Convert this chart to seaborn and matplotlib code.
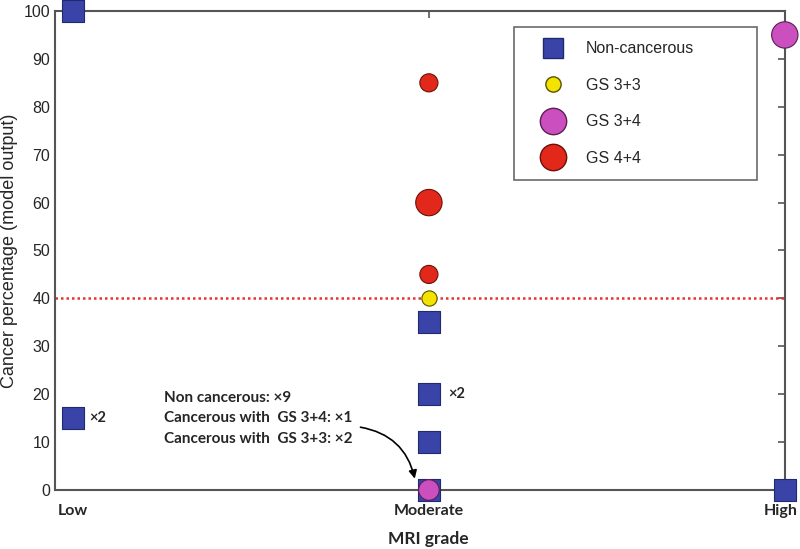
import pandas as pd
import matplotlib.pyplot as plt
import seaborn as sns
from matplotlib.lines import Line2D
from matplotlib.transforms import ScaledTranslation

sns.set_theme(style="white")
plt.rcParams['font.family'] = ['Liberation Sans', 'DejaVu Sans']

# MRI grade positions: 0 = Low, 1 = Moderate, 2 = High
grade_labels = ['Low', 'Moderate', 'High']

non_cancer_grade = [0, 0, 1, 1, 1, 1, 2]
non_cancer_value = [100, 15, 35, 20, 10, 0, 0]

gs33_grade = [1]
gs33_value = [40]

gs34_grade = [2, 1]
gs34_value = [95, 0]

gs44_grade = [1, 1, 1]
gs44_value = [85, 60, 45]

threshold = 40

groups = {
    'Non-cancerous': (non_cancer_grade, non_cancer_value),
    'GS 3+3': (gs33_grade, gs33_value),
    'GS 3+4': (gs34_grade, gs34_value),
    'GS 4+4': (gs44_grade, gs44_value),
}

# styles
colors = {'Non-cancerous': '#3a44a8', 'GS 3+3': '#f4e200',
          'GS 3+4': '#cc4fc0', 'GS 4+4': '#e2281a'}
markers = {'Non-cancerous': 's', 'GS 3+3': 'o', 'GS 3+4': 'o', 'GS 4+4': 'o'}
edges = {'Non-cancerous': '#1f2a70', 'GS 3+3': '#555500',
         'GS 3+4': '#5a1f55', 'GS 4+4': '#6a1208'}
point_sizes = {'Non-cancerous': [250] * 7, 'GS 3+3': [120],
               'GS 3+4': [360, 220], 'GS 4+4': [170, 360, 170]}

fig = plt.figure(figsize=(8, 5.49), dpi=100)
ax = fig.add_axes([0.069, 0.1075, 0.912, 0.8725])

ax.axhline(threshold, color='#e8342a', linestyle=(0, (1, 1.2)), linewidth=1.8, zorder=1)

for name, (gx, gy) in groups.items():
    df = pd.DataFrame({'grade': gx, 'value': gy})
    sns.scatterplot(data=df, x='grade', y='value', ax=ax, marker=markers[name],
                    color=colors[name], edgecolor=edges[name], linewidth=0.8,
                    s=point_sizes[name], clip_on=False, zorder=3, legend=False)

ax.set_xlim(-0.05, 2.0)
ax.set_ylim(0, 100)
ax.set_yticks(range(0, 101, 10))
ax.set_xticks([0, 1, 2])
ax.set_xticklabels(grade_labels, fontweight='bold', fontsize=9.6,
                   family=['Lato', 'DejaVu Sans'])
ax.tick_params(axis='both', direction='in', length=5, width=1.2, color='#555555',
               top=True, right=True, labelsize=11.5)
ax.tick_params(axis='x', pad=10)
high_lbl = ax.get_xticklabels()[-1]
high_lbl.set_transform(high_lbl.get_transform() + ScaledTranslation(-3 / 72, 0, fig.dpi_scale_trans))
for sp in ax.spines.values():
    sp.set_color('#555555')
    sp.set_linewidth(1.5)

ax.set_xlabel('MRI grade', fontsize=12.5, fontweight='bold',
              family=['Lato', 'DejaVu Sans'], labelpad=8)
ax.xaxis.set_label_coords(0.511, -0.085)
ax.set_ylabel('Cancer percentage (model output)', fontsize=13, labelpad=4)

bold_font = dict(fontweight='bold', fontsize=10.5, family=['Lato', 'DejaVu Sans'])
ax.text(0.045, 15, '×2', va='center', ha='left', **bold_font)
ax.text(1.055, 20, '×2', va='center', ha='left', **bold_font)
ax.text(0.255, 15, 'Non cancerous: ×9\nCancerous with  GS 3+4: ×1\nCancerous with  GS 3+3: ×2',
        va='center', ha='left', linespacing=1.6, fontweight='bold', fontsize=11,
        family=['Lato', 'DejaVu Sans'])
ax.annotate('', xy=(0.962, 1.8), xytext=(0.8, 13.2),
            arrowprops=dict(arrowstyle='-|>', color='black', lw=1.2,
                            connectionstyle='arc3,rad=-0.35'))

handles = [
    Line2D([], [], linestyle='', marker='s', markersize=15, markerfacecolor=colors['Non-cancerous'],
           markeredgecolor=edges['Non-cancerous']),
    Line2D([], [], linestyle='', marker='o', markersize=11, markerfacecolor=colors['GS 3+3'],
           markeredgecolor=edges['GS 3+3']),
    Line2D([], [], linestyle='', marker='o', markersize=19, markerfacecolor=colors['GS 3+4'],
           markeredgecolor=edges['GS 3+4']),
    Line2D([], [], linestyle='', marker='o', markersize=19, markerfacecolor=colors['GS 4+4'],
           markeredgecolor=edges['GS 4+4']),
]
leg = ax.legend(handles, list(groups.keys()), loc='upper left',
                bbox_to_anchor=(0.629, 0.653, 0.333, 0.314), mode='expand',
                fontsize=11.5, labelspacing=1.35, handletextpad=0.5, borderpad=0.9,
                borderaxespad=0, frameon=True, fancybox=False, edgecolor='#444444',
                handlelength=3.1)
leg.get_frame().set_linewidth(1.2)

fig.savefig('out.png', dpi=100)
